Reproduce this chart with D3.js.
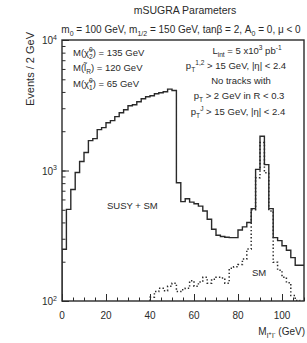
<!DOCTYPE html>
<html>
<head>
<meta charset="utf-8">
<script src="https://cdn.jsdelivr.net/npm/d3@7"></script>
<style>
  html, body { margin: 0; padding: 0; background: #fff; }
  svg { display: block; font-family: "Liberation Sans", Arial, Helvetica, sans-serif; }
</style>
</head>
<body>
<div id="chart"></div>
<script>
// bin lower edges are 0, 2, 4, ... (2 GeV bins)
const binWidth = 2;
const susySmStart = 0;
const susySm = [
  249, 504, 716, 966, 1172, 1373, 1695, 1755, 2056, 2130,
  2323, 2410, 2585, 2773, 2922, 3135, 3190, 3363, 3548, 3672,
  3739, 3870, 3938, 4008, 4200, 4100, 805, 577, 608, 572,
  556, 533, 489, 423, 355, 319, 312, 308, 306, 306,
  350, 370, 400, 510, 1020, 1830, 1110, 510, 306, 290,
  265, 245, 215, 188, 188,
];
const smStart = 40;
const sm = [
  107, 118, 125, 120, 130, 137, 118, 122, 125, 143,
  130, 140, 152, 137, 147, 152, 150, 137, 178, 183,
  190, 210, 250, 500, 880, 1640, 960, 490, 198, 172,
  152, 138, 110, 101, 99,
];
const xMajor = [0, 20, 40, 60, 80, 100];
const yDecades = [2, 3, 4];

const W = 307, H = 343;
const x = d3.scaleLinear().domain([0, 110]).range([62, 304]);
const y = d3.scaleLog().domain([100, 10000]).range([301, 40]);
const ink = "#2a2a2a";

const svg = d3.select("#chart").append("svg")
  .attr("width", W).attr("height", H)
  .attr("viewBox", `0 0 ${W} ${H}`);

// text with sub/superscripts: parts = [text, shift, scale, dx]
function rich(sel, parts, size) {
  let cur = 0;
  parts.forEach(([t, shift = 0, scale = 1, dx = 0]) => {
    const target = shift * size;
    const ts = sel.append("tspan").attr("dy", target - cur).text(t);
    if (scale !== 1) ts.attr("font-size", size * scale);
    if (dx) ts.attr("dx", dx);
    cur = target;
  });
  return sel;
}
function label(px, py, parts, size, anchor) {
  const t = svg.append("text")
    .attr("x", px).attr("y", py)
    .attr("font-size", size)
    .attr("fill", ink)
    .attr("text-anchor", anchor || "start");
  return rich(t, parts, size);
}

svg.append("defs").append("clipPath").attr("id", "plot")
  .append("rect")
  .attr("x", x(0)).attr("y", y(10000))
  .attr("width", x(110) - x(0)).attr("height", y(100) - y(10000));

function stepPoints(start, vals) {
  const pts = [[start, 100]];
  vals.forEach((v, i) => {
    pts.push([start + i * binWidth, v]);
    pts.push([start + (i + 1) * binWidth, v]);
  });
  return pts;
}
const line = d3.line().x((d) => x(d[0])).y((d) => y(Math.max(d[1], 50)));

const plot = svg.append("g").attr("clip-path", "url(#plot)");
plot.append("path")
  .attr("d", line(stepPoints(smStart, sm)))
  .attr("fill", "none").attr("stroke", ink)
  .attr("stroke-width", 1.5).attr("stroke-dasharray", "1.4,2.2");
plot.append("path")
  .attr("d", line(stepPoints(susySmStart, susySm)))
  .attr("fill", "none").attr("stroke", ink)
  .attr("stroke-width", 1.4);

// x ticks (inward)
const xAxisMinor = d3.axisBottom(x).tickValues(d3.range(0, 111, 5)).tickSize(-3.5).tickFormat("");
const xAxisMajor = d3.axisBottom(x).tickValues(xMajor).tickSize(-7).tickFormat("");
[xAxisMinor, xAxisMajor].forEach((ax) => {
  const g = svg.append("g").attr("transform", `translate(0,${y(100)})`).call(ax);
  g.select(".domain").remove();
  g.selectAll("line").attr("stroke", ink).attr("stroke-width", 1);
});
svg.append("g").selectAll("text").data(xMajor).join("text")
  .attr("x", (d) => x(d)).attr("y", 319)
  .attr("text-anchor", "middle").attr("font-size", 10).attr("fill", ink)
  .text((d) => d);

// y ticks (inward)
const yAxisMinor = d3.axisLeft(y).tickValues(y.ticks()).tickSize(-3.5).tickFormat("");
const yAxisMajor = d3.axisLeft(y).tickValues(yDecades.map((p) => 10 ** p)).tickSize(-7).tickFormat("");
[yAxisMinor, yAxisMajor].forEach((ax) => {
  const g = svg.append("g").attr("transform", `translate(${x(0)},0)`).call(ax);
  g.select(".domain").remove();
  g.selectAll("line").attr("stroke", ink).attr("stroke-width", 1);
});
yDecades.forEach((p) => {
  label(57, y(10 ** p) + 4, [["10"], [String(p), -0.45, 0.7]], 10, "end");
});

// frame
svg.append("rect")
  .attr("x", x(0)).attr("y", y(10000))
  .attr("width", x(110) - x(0)).attr("height", y(100) - y(10000))
  .attr("fill", "none").attr("stroke", ink).attr("stroke-width", 1.4);

// titles
label(185, 14, [["mSUGRA Parameters"]], 10.5, "middle");
label(181, 33, [
  ["m"], ["0", 0.3, 0.7], [" = 100 GeV, m", 0], ["1/2", 0.3, 0.7],
  [" = 150 GeV, tanβ = 2, A", 0], ["0", 0.3, 0.7], [" = 0, μ < 0", 0],
], 10, "middle");

const yl = svg.append("text")
  .attr("transform", "translate(34,32) rotate(-90)")
  .attr("text-anchor", "end").attr("font-size", 11).attr("fill", ink)
  .text("Events / 2 GeV");

label(305, 335, [
  ["M"], ["l", 0.3, 0.75], ["+", -0.05, 0.6], ["l", 0.3, 0.75], ["-", -0.05, 0.6], [" (GeV)", 0],
], 10, "end");

// mass legend
const fs = 9.5;
label(73, 56, [["M(χ\u0303"], ["0", -0.4, 0.7], ["2", 0.3, 0.7, -3.7], [") = 135 GeV", 0]], fs);
label(73, 71, [["M(l\u0303"], ["R", 0.3, 0.7], [") = 120 GeV", 0]], fs);
label(73, 87, [["M(χ\u0303"], ["0", -0.4, 0.7], ["1", 0.3, 0.7, -3.7], [") = 65 GeV", 0]], fs);

// cuts
label(247, 54, [["L"], ["int", 0.3, 0.7], [" = 5 x10", 0], ["3", -0.4, 0.7], [" pb", 0], ["-1", -0.4, 0.7]], fs, "middle");
label(236, 69, [["p"], ["T", 0.3, 0.7], ["1,2", -0.4, 0.7], [" > 15 GeV, |η| < 2.4", 0]], fs, "middle");
label(241, 84, [["No tracks with"]], fs, "middle");
label(239, 99, [["p"], ["T", 0.3, 0.7], [" > 2 GeV in R < 0.3", 0]], fs, "middle");
label(238, 115, [["p"], ["T", 0.3, 0.7], ["J", -0.4, 0.7], [" > 15 GeV, |η| < 2.4", 0]], fs, "middle");

label(107, 209, [["SUSY + SM"]], fs);
label(252, 276, [["SM"]], fs);
</script>
</body>
</html>
